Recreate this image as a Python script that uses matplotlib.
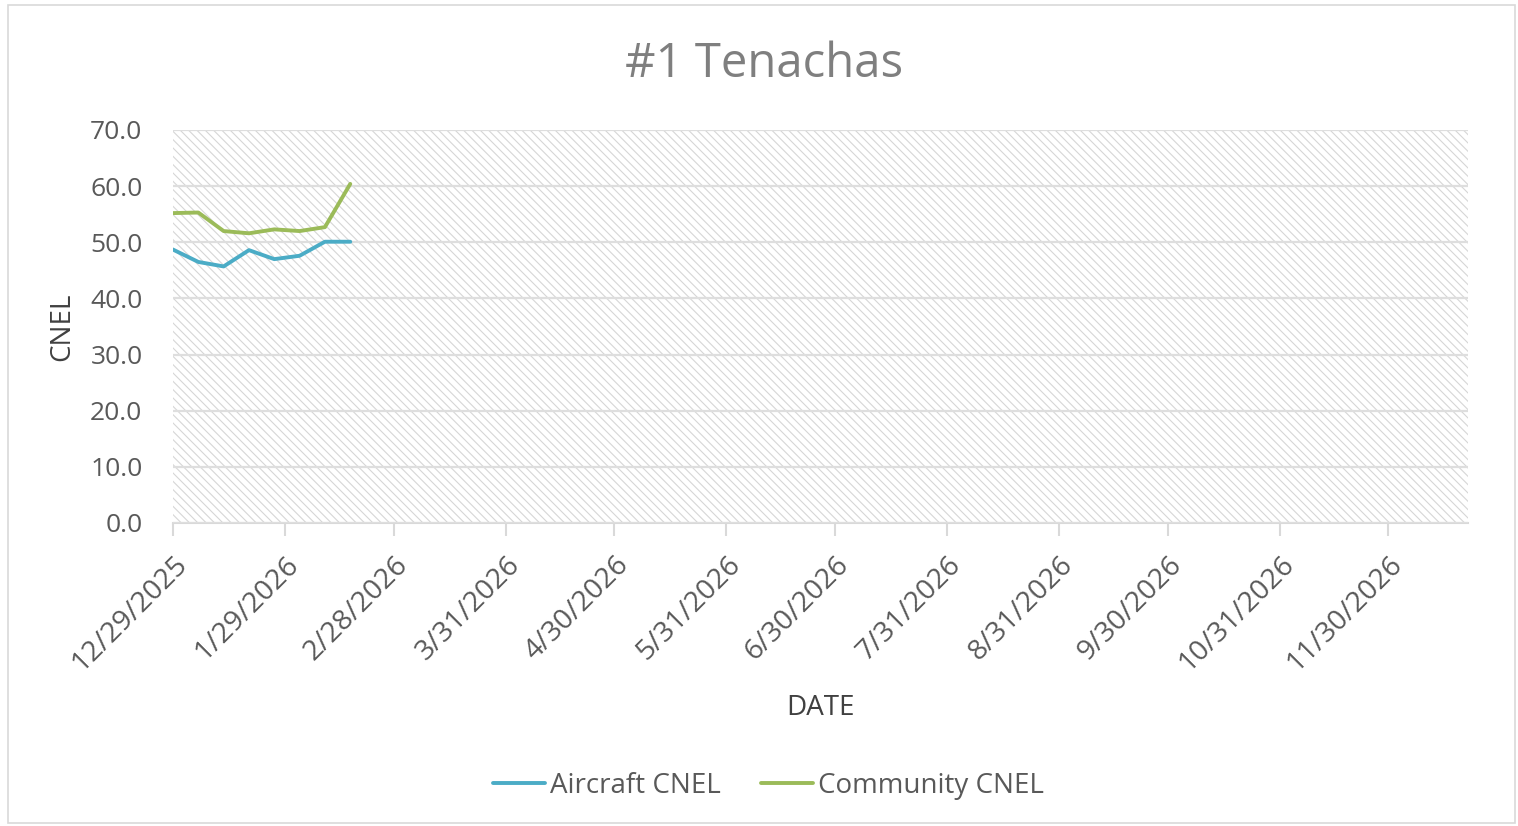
import matplotlib
matplotlib.use("Agg")
import matplotlib.pyplot as plt
from matplotlib.patches import Rectangle
import datetime as dt

dates = ["2025-12-29", "2026-01-05", "2026-01-12", "2026-01-19",
         "2026-01-26", "2026-02-02", "2026-02-09", "2026-02-16"]
aircraft_cnel = [48.7, 46.5, 45.7, 48.6, 47.0, 47.6, 50.1, 50.1]
community_cnel = [55.2, 55.3, 52.0, 51.6, 52.3, 52.0, 52.7, 60.4]
tick_dates = ["2025-12-29", "2026-01-29", "2026-02-28", "2026-03-31", "2026-04-30",
              "2026-05-31", "2026-06-30", "2026-07-31", "2026-08-31", "2026-09-30",
              "2026-10-31", "2026-11-30"]
tick_labels = ["12/29/2025", "1/29/2026", "2/28/2026", "3/31/2026", "4/30/2026",
               "5/31/2026", "6/30/2026", "7/31/2026", "8/31/2026", "9/30/2026",
               "10/31/2026", "11/30/2026"]
y_ticks = [0, 10, 20, 30, 40, 50, 60, 70]
x_start, x_end = "2025-12-29", "2026-12-22"

to_d = lambda s: dt.datetime.strptime(s, "%Y-%m-%d")
xd = [to_d(s) for s in dates]

plt.rcParams['font.family'] = ['Open Sans', 'DejaVu Sans']
plt.rcParams['hatch.linewidth'] = 0.8
txt = '#595959'
grid_c = '#dedede'

W, H = 1518, 826
fig = plt.figure(figsize=(W/100, H/100), dpi=100)
fig.patch.set_facecolor('white')
fig.add_artist(Rectangle((0.005, 0.004), 0.993, 0.99, transform=fig.transFigure,
                         fill=False, edgecolor='#d9d9d9', lw=1.2))
ax = fig.add_axes([173/W, 1 - 523/H, (1468-173)/W, (523-130)/H])

ax.add_patch(Rectangle((0, 0), 1, 1, transform=ax.transAxes, facecolor='white',
                       edgecolor='#d6d6d6', hatch='\\\\\\\\', lw=0, zorder=0))

ax.plot(xd, aircraft_cnel, color='#4bacc6', lw=2.8, label='Aircraft CNEL', zorder=3,
        solid_capstyle='round', solid_joinstyle='round')
ax.plot(xd, community_cnel, color='#9bbb59', lw=2.8, label='Community CNEL', zorder=3,
        solid_capstyle='round', solid_joinstyle='round')

ax.set_xlim(to_d(x_start), to_d(x_end))
ax.set_ylim(0, 70)
ax.set_yticks(y_ticks)
ax.set_yticklabels([f"{v:.1f}" for v in y_ticks])
ax.set_xticks([to_d(s) for s in tick_dates])
ax.set_xticklabels(tick_labels, rotation=45, ha='right', rotation_mode='anchor')

ax.yaxis.grid(True, color=grid_c, lw=1.6, zorder=1)
ax.set_axisbelow(False)
for s in ['top', 'right', 'left']:
    ax.spines[s].set_visible(False)
ax.spines['bottom'].set_color('#d9d9d9')
ax.spines['bottom'].set_linewidth(1.5)
ax.tick_params(axis='y', length=0, pad=22, labelsize=19, labelcolor=txt)
ax.tick_params(axis='x', length=9, width=1.5, color='#d9d9d9', pad=11, labelsize=20.5, labelcolor=txt)

ax.set_ylabel('CNEL', fontsize=20, color='#404040')
ax.set_xlabel('DATE', fontsize=20, color='#404040')
ax.yaxis.set_label_coords((62 - 173) / (1468 - 173), 0.5)
ax.xaxis.set_label_coords((820 - 173) / (1468 - 173), -(708 - 523) / (523 - 130))
ax.xaxis.label.set_va('center')
ax.yaxis.label.set_va('center')
fig.text(764/W, 1 - 64/H, '#1 Tenachas', ha='center', va='center', fontsize=34, color='#7f7f7f')

fig.legend(loc='center', bbox_to_anchor=(768/W, 1 - 786/H), ncol=2, frameon=False,
           fontsize=20, handlelength=1.9, handletextpad=0.15, columnspacing=1.45,
           labelcolor=txt)
fig.savefig('out.png', dpi=100)
